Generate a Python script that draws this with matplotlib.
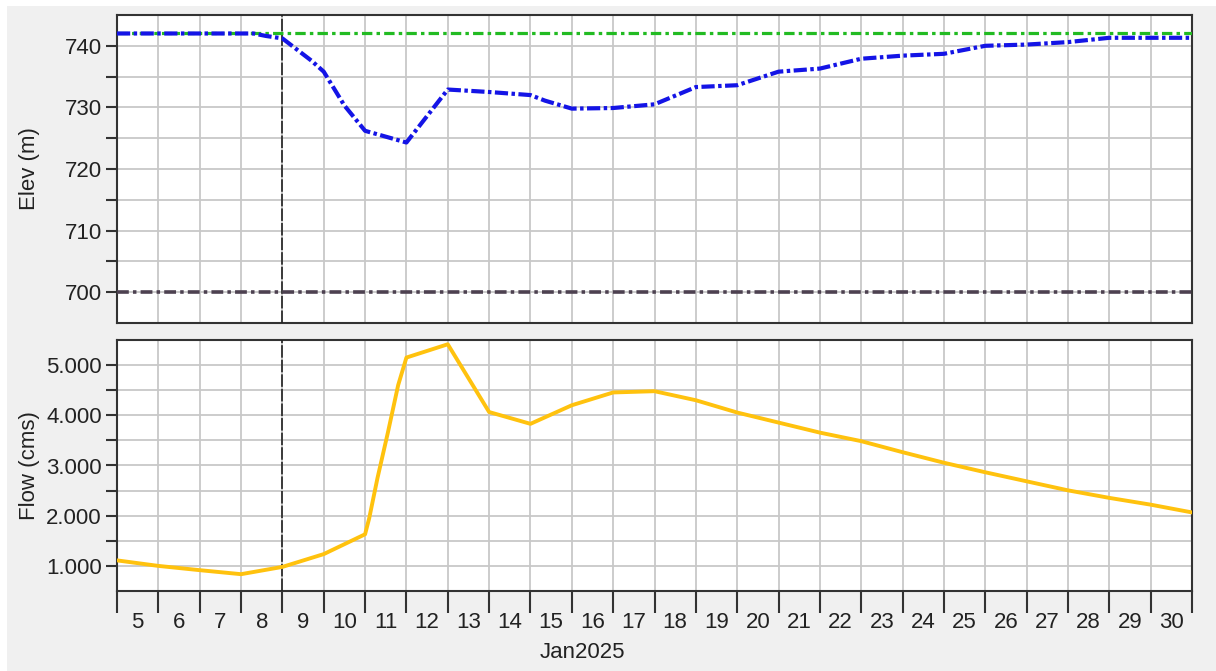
import matplotlib

matplotlib.use("Agg")
import matplotlib.pyplot as plt
import numpy as np
from matplotlib.patches import Rectangle
from matplotlib.ticker import FixedLocator, FuncFormatter

plt.rcParams["font.family"] = ["Liberation Sans", "DejaVu Sans"]
plt.rcParams["lines.scale_dashes"] = False

# ── Data (x = day of January 2025) ────────────────────────────────────────────
elev_days = [5, 6, 7, 8, 8.3, 8.6, 9, 9.7, 10, 10.5, 11, 12, 13, 14, 15, 15.35, 16,
             17, 18, 19, 20, 21, 22, 23, 24, 25, 26, 27, 28, 29, 30, 31]
elev_m = [742.0, 742.0, 742.0, 742.0, 742.0, 741.6, 741.2, 737.6, 735.8, 730.3,
          726.2, 724.3, 732.9, 732.5, 732.0, 731.1, 729.8, 729.9, 730.5, 733.3,
          733.6, 735.8, 736.3, 737.9, 738.4, 738.7, 740.0, 740.2, 740.6, 741.3,
          741.3, 741.3]

guide_top_elev = 742.0     # green dash-dot
guide_bottom_elev = 700.0  # dark dash-dot

flow_days = [5, 6, 7, 8, 9, 10, 11, 11.1, 11.3, 11.55, 11.8, 12, 13, 14, 15, 16,
             17, 18, 19, 20, 21, 22, 23, 24, 25, 26, 27, 28, 29, 30, 31]
flow_cms = [1110, 1000, 915, 835, 980, 1235, 1630, 1950, 2750, 3650, 4600, 5150,
            5415, 4065, 3830, 4200, 4455, 4480, 4300, 4055, 3855, 3655, 3485,
            3265, 3055, 2865, 2685, 2505, 2355, 2220, 2065]

forecast_day = 9
day_ticks = list(range(5, 32))
day_labels = [str(d) for d in range(5, 31)]

# ── Style ─────────────────────────────────────────────────────────────────────
BG = "#f0f0f0"
GRID = "#c8c8c8"
SPINE = "#333333"
TXT = "#222222"
FS = 16

fig = plt.figure(figsize=(12.16, 6.71), dpi=100)
fig.patch.set_facecolor("white")
fig.patches.append(
    Rectangle((7 / 1216, 0), 1, 1 - 6 / 671, transform=fig.transFigure,
              facecolor=BG, edgecolor="none", zorder=-10)
)

L, R = 117 / 1216, 1192 / 1216
ax1 = fig.add_axes([L, 1 - 323 / 671, R - L, 308 / 671])
ax2 = fig.add_axes([L, 1 - 591 / 671, R - L, 251 / 671])


def style_ax(ax):
    ax.set_facecolor("white")
    for s in ax.spines.values():
        s.set_color(SPINE)
        s.set_linewidth(1.5)
    ax.set_xlim(5, 31)
    ax.xaxis.set_major_locator(FixedLocator(day_ticks))
    ax.grid(True, axis="x", which="major", color=GRID, lw=1.3)
    ax.grid(True, axis="y", which="both", color=GRID, lw=1.3)
    ax.set_axisbelow(True)
    ax.tick_params(axis="y", which="both", direction="out", length=8, width=1.5,
                   color=SPINE, labelsize=FS, labelcolor=TXT, pad=3)
    ax.axvline(forecast_day, color=TXT, lw=1.2, dashes=(9, 1.5), zorder=3)


# ── Elevation panel ───────────────────────────────────────────────────────────
style_ax(ax1)
ax1.set_ylim(695, 745)
ax1.yaxis.set_major_locator(FixedLocator([700, 710, 720, 730, 740]))
ax1.yaxis.set_minor_locator(FixedLocator([705, 715, 725, 735]))
ax1.tick_params(axis="x", which="both", length=0, labelbottom=False)
ax1.axhline(guide_top_elev, color="#22bb22", lw=2.3, dashes=(7.5, 3, 2.5, 3), zorder=4)
ax1.axhline(guide_bottom_elev, color="#4d4150", lw=2.6, dashes=(8.5, 3, 2.5, 3), zorder=4)
ax1.plot(elev_days, elev_m, color="#1414e6", lw=3, dashes=(9.5, 2.5, 2.5, 2.5), zorder=5)
ax1.set_ylabel("Elev (m)", fontsize=FS, color=TXT)
ax1.yaxis.set_label_coords(-0.072, 0.5)

# ── Flow panel ────────────────────────────────────────────────────────────────
style_ax(ax2)
ax2.set_ylim(500, 5500)
ax2.yaxis.set_major_locator(FixedLocator([1000, 2000, 3000, 4000, 5000]))
ax2.yaxis.set_minor_locator(FixedLocator([1500, 2500, 3500, 4500]))
ax2.yaxis.set_major_formatter(FuncFormatter(lambda v, p: f"{v:,.0f}".replace(",", ".")))
ax2.xaxis.set_minor_locator(FixedLocator(np.array(day_ticks[:-1]) + 0.5))
ax2.xaxis.set_minor_formatter(FuncFormatter(lambda v, p: day_labels[int(v) - 5]))
ax2.xaxis.set_major_formatter(FuncFormatter(lambda v, p: ""))
ax2.tick_params(axis="x", which="major", direction="out", length=16, width=1.5,
                color=SPINE)
ax2.tick_params(axis="x", which="minor", length=0, pad=15, labelsize=FS,
                labelcolor=TXT)
ax2.plot(flow_days, flow_cms, color="#ffc20e", lw=2.8, zorder=5)
ax2.set_ylabel("Flow (cms)", fontsize=FS, color=TXT)
ax2.yaxis.set_label_coords(-0.072, 0.5)

fig.text(582 / 1216, 1 - 653 / 671, "Jan2025", ha="center", va="center",
         fontsize=FS, color=TXT)

fig.savefig("out.png", dpi=100, facecolor=fig.get_facecolor())
